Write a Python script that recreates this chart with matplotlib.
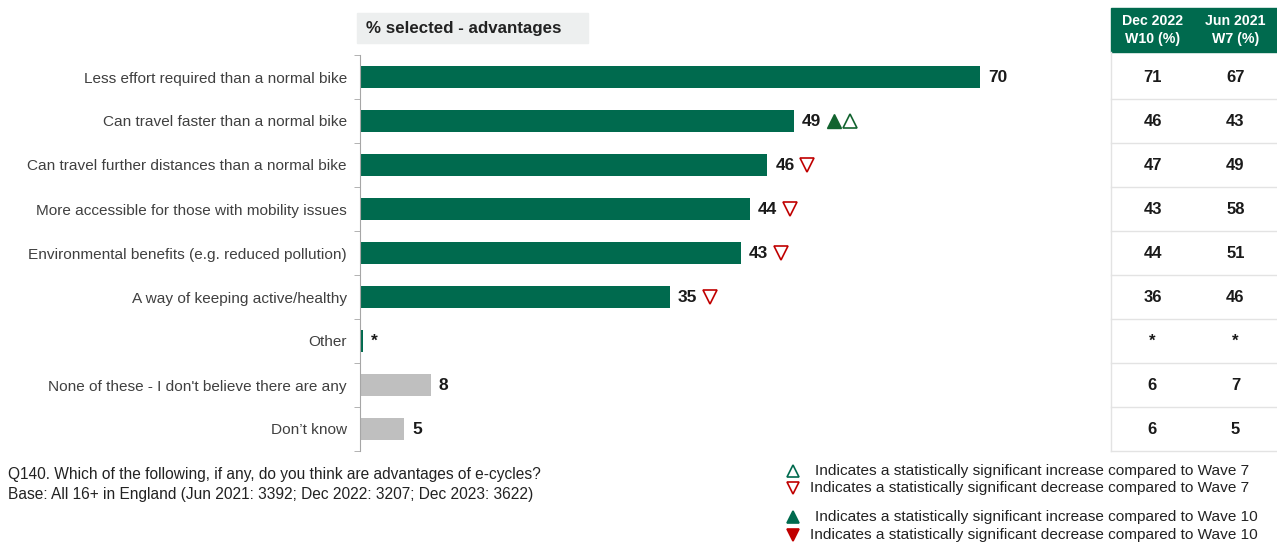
import numpy as np
import matplotlib.pyplot as plt
from matplotlib.patches import Rectangle
from matplotlib.transforms import offset_copy

plt.rcParams['font.family'] = ['Liberation Sans', 'DejaVu Sans']

# survey answers, current wave (Dec 2023 W13)
categories = ['Less effort required than a normal bike',
              'Can travel faster than a normal bike',
              'Can travel further distances than a normal bike',
              'More accessible for those with mobility issues',
              'Environmental benefits (e.g. reduced pollution)',
              'A way of keeping active/healthy',
              'Other',
              "None of these - I don't believe there are any",
              'Don\u2019t know']
values = [70, 49, 46, 44, 43, 35, 0.3, 8, 5]
value_labels = ['70', '49', '46', '44', '43', '35', '*', '8', '5']
is_substantive = [True, True, True, True, True, True, True, False, False]

# significance flags: 'up10' filled up vs W10, 'up7' hollow up vs W7, 'down7' hollow down vs W7
sig_flags = [[], ['up10', 'up7'], ['down7'], ['down7'], ['down7'], ['down7'], [], [], []]

# comparison table
table_headers = ['Dec 2022\nW10 (%)', 'Jun 2021\nW7 (%)']
wave10 = ['71', '46', '47', '43', '44', '36', '*', '6', '6']
wave7 = ['67', '43', '49', '58', '51', '46', '*', '7', '5']

GREEN = '#006A4E'
DARK_GREEN = '#12632F'
RED = '#C00000'
GREY_BAR = '#BFBFBF'

W, H = 1277, 545
fig = plt.figure(figsize=(W / 100, H / 100), dpi=100)


def px_axes(x0, y0, x1, y1):
    # axes placed by pixel box (top-left origin)
    return fig.add_axes([x0 / W, 1 - y1 / H, (x1 - x0) / W, (y1 - y0) / H])


ax = px_axes(360, 55, 980, 451)
y = np.arange(len(categories))
colors = [GREEN if s else GREY_BAR for s in is_substantive]
ax.barh(y, values, height=0.5, color=colors)
ax.set_xlim(0, 70)
ax.set_ylim(len(categories) - 0.5, -0.5)
ax.set_yticks(y)
ax.set_yticklabels(categories, fontsize=11.1, color='#404040')
ax.tick_params(axis='y', which='major', length=0, pad=9.5)
ax.set_yticks(np.arange(len(categories) + 1) - 0.5, minor=True)
ax.tick_params(axis='y', which='minor', length=4, color='#A6A6A6')
ax.set_xticks([])
for side in ['top', 'right', 'bottom']:
    ax.spines[side].set_visible(False)
ax.spines['left'].set_color('#A6A6A6')

# value labels and significance markers
for i, (v, lab) in enumerate(zip(values, value_labels)):
    tr = offset_copy(ax.transData, fig=fig, x=8, y=0, units='dots')
    ax.text(v, i, lab, transform=tr, ha='left', va='center',
            fontsize=12.5, fontweight='bold', color='#1a1a1a', clip_on=False)
    for k, flag in enumerate(sig_flags[i]):
        mtr = offset_copy(ax.transData, fig=fig, x=40 + 16 * k, y=0, units='dots')
        if flag == 'up10':
            ax.plot(v, i, transform=mtr, marker='^', ms=10, color=DARK_GREEN,
                    mec=DARK_GREEN, clip_on=False)
        elif flag == 'up7':
            ax.plot(v, i, transform=mtr, marker='^', ms=10, mfc='white',
                    mec=DARK_GREEN, mew=1.2, clip_on=False)
        elif flag == 'down7':
            ax.plot(v, i, transform=mtr, marker='v', ms=10, mfc='white',
                    mec=RED, mew=1.2, clip_on=False)

# section heading
fig.patches.append(Rectangle((357 / W, 1 - 43 / H), 231 / W, 30 / H,
                             transform=fig.transFigure, color='#EDEFEF', zorder=0))
fig.text(366 / W, 1 - 29 / H, '% selected - advantages', fontsize=12.2,
         fontweight='bold', color='#222222', va='center', ha='left')

# comparison table sharing the bar rows
tab = px_axes(1111, 55, 1277, 451)
tab.set_xlim(0, 2)
tab.set_ylim(len(categories) - 0.5, -0.5)
tab.axis('off')
line_c = '#E3E3E3'
tab.add_patch(Rectangle((0, -1.568), 2, 1.0, color=GREEN, clip_on=False))
for j, h in enumerate(table_headers):
    tab.text(j + 0.5, -1.068, h, ha='center', va='center', color='white',
             fontsize=10.2, fontweight='bold', linespacing=1.35, clip_on=False)
for i in range(len(categories)):
    tab.text(0.5, i, wave10[i], ha='center', va='center', fontsize=12,
             fontweight='bold', color='#1a1a1a')
    tab.text(1.5, i, wave7[i], ha='center', va='center', fontsize=12,
             fontweight='bold', color='#1a1a1a')
for b in np.arange(len(categories)) + 0.5:
    tab.plot([0, 2], [b, b], color=line_c, lw=1, clip_on=False)
tab.plot([0, 0], [-0.568, len(categories) - 0.5], color=line_c, lw=1, clip_on=False)

# footnotes
fig.text(8 / W, 1 - 475 / H, 'Q140. Which of the following, if any, do you think are advantages of e-cycles?',
         fontsize=11.2, color='#222222', va='center')
fig.text(8 / W, 1 - 494 / H, 'Base: All 16+ in England (Jun 2021: 3392; Dec 2022: 3207; Dec 2023: 3622)',
         fontsize=11.2, color='#222222', va='center')

# significance key
key = [('^', 'white', GREEN, 471, 815, 'Indicates a statistically significant increase compared to Wave 7'),
       ('v', 'white', RED, 488, 810, 'Indicates a statistically significant decrease compared to Wave 7'),
       ('^', GREEN, GREEN, 517, 815, 'Indicates a statistically significant increase compared to Wave 10'),
       ('v', RED, RED, 535, 810, 'Indicates a statistically significant decrease compared to Wave 10')]
for m, fc, ec, ypx, xt, txt in key:
    fig.lines.append(plt.Line2D([793 / W], [1 - ypx / H], transform=fig.transFigure,
                                marker=m, ms=9, mfc=fc, mec=ec, mew=1.2))
    fig.text(xt / W, 1 - ypx / H, txt, fontsize=11.1, color='#222222', va='center')

fig.savefig('out.png', dpi=100)
